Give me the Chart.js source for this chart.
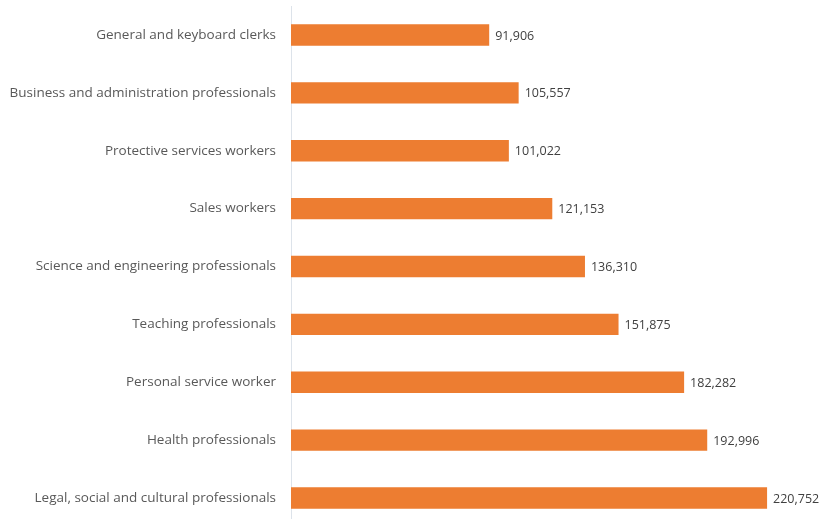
<!DOCTYPE html>
<html>
<head>
<meta charset="utf-8">
<script src="https://cdn.jsdelivr.net/npm/chart.js@4.4.0/dist/chart.umd.min.js"></script>
<style>
  html, body { margin: 0; padding: 0; background: #fff; overflow: hidden; }
  #wrap { position: relative; width: 828px; height: 551px; margin-top: -9px; }
</style>
</head>
<body>
<div id="wrap"><canvas id="occupations"></canvas></div>
<script>
const categories = [
  'General and keyboard clerks',
  'Business and administration professionals',
  'Protective services workers',
  'Sales workers',
  'Science and engineering professionals',
  'Teaching professionals',
  'Personal service worker',
  'Health professionals',
  'Legal, social and cultural professionals'
];
const workers = [91906, 105557, 101022, 121153, 136310, 151875, 182282, 192996, 220752];

const valueLabels = {
  id: 'valueLabels',
  afterDatasetsDraw(chart) {
    const ctx = chart.ctx;
    const meta = chart.getDatasetMeta(0);
    ctx.save();
    ctx.font = '12.5px "Open Sans"';
    ctx.fillStyle = '#404040';
    ctx.textBaseline = 'middle';
    ctx.textAlign = 'left';
    meta.data.forEach((bar, i) => {
      ctx.fillText(workers[i].toLocaleString('en-US'), bar.x + 6, bar.y + 1);
    });
    ctx.restore();
  }
};

new Chart(document.querySelector('#occupations'), {
  type: 'bar',
  data: {
    labels: categories,
    datasets: [{
      data: workers,
      backgroundColor: '#ED7D31',
      barPercentage: 0.37,
      categoryPercentage: 1
    }]
  },
  options: {
    indexAxis: 'y',
    responsive: true,
    maintainAspectRatio: false,
    animation: false,
    layout: { padding: 0 },
    plugins: {
      legend: { display: false },
      tooltip: { enabled: false }
    },
    scales: {
      x: {
        display: false,
        min: 0,
        max: 249000
      },
      y: {
        grid: { display: false },
        border: { display: true, color: '#dde3ea', width: 1 },
        ticks: {
          color: '#595959',
          font: { family: '"Open Sans"', size: 13.5 },
          padding: 7
        },
        afterFit(scale) { scale.width = 291; }
      }
    }
  },
  plugins: [valueLabels]
});
</script>
</body>
</html>
